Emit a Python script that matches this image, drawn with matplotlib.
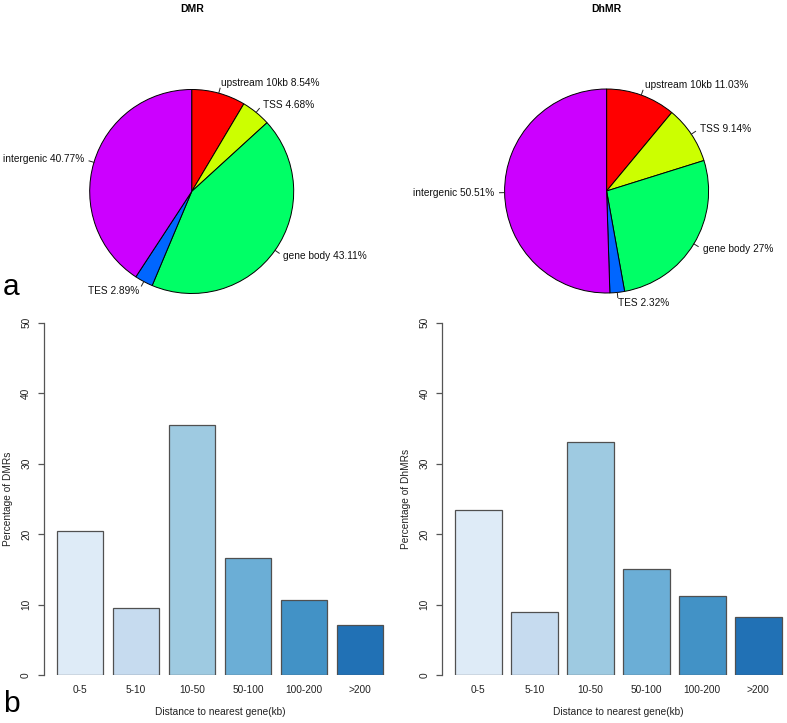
#Pie and bar plots of DMR / DhMR distribution relative to genes

import numpy as np
import matplotlib
matplotlib.use('Agg')
import matplotlib.pyplot as plt

plt.rcParams['font.family'] = ['Liberation Sans', 'DejaVu Sans']

PieParts = ['upstream 10kb', 'TSS', 'gene body', 'TES', 'intergenic']
DMRPie = [8.54, 4.68, 43.11, 2.89, 40.77]
DhMRPie = [11.03, 9.14, 27, 2.32, 50.51]
PieColors = ['#FF0000', '#CCFF00', '#00FF66', '#0066FF', '#CC00FF']

DistBins = ['0-5', '5-10', '10-50', '50-100', '100-200', '>200']
DMRDist = [20.5, 9.45, 35.55, 16.65, 10.7, 7.05]
DhMRDist = [23.35, 8.98, 33.0, 15.08, 11.16, 8.23]
BarColors = ['#DEEBF7', '#C6DBEF', '#9ECAE1', '#6BAED6', '#4292C6', '#2171B5']

W = 787.
H = 723.
fs = 7.3


def PxAxes(fig, left, top, width, height):

	return fig.add_axes([left/W, 1-(top+height)/H, width/W, height/H])


def PlotPie(fig, cx, cy, values, title):

	r = 102.
	ax = PxAxes(fig, cx-1.5*r, cy-1.5*r, 3*r, 3*r)
	labels = [name+' '+('%g' % v)+'%' for name, v in zip(PieParts, values)]

	wedges, texts = ax.pie(values, labels=labels, colors=PieColors, startangle=90,
		counterclock=False, labeldistance=1.1,
		wedgeprops={'edgecolor': 'black', 'linewidth': 0.7},
		textprops={'fontsize': fs, 'color': '#111111'})

	for w in wedges:
		mid = np.deg2rad((w.theta1+w.theta2)/2.)
		ax.plot([np.cos(mid), 1.05*np.cos(mid)], [np.sin(mid), 1.05*np.sin(mid)],
			color='#222222', lw=0.7)

	ax.set_xlim(-1.5, 1.5)
	ax.set_ylim(-1.5, 1.5)
	ax.axis('off')

	fig.text(cx/W, 1-9.5/H, title, ha='center', va='center', fontsize=fs+0.2, fontweight='bold')


def PlotBar(fig, left, values, ylabel):

	ax = PxAxes(fig, left, 322.7, 352.8, 352.3)
	pos = np.arange(len(values))*1.2 + 0.7

	ax.bar(pos, values, width=1.0, color=BarColors, edgecolor='#505050', linewidth=0.9)

	ax.set_xlim(-0.08, 7.48)
	ax.set_ylim(0, 50)

	for side in ['top', 'right', 'bottom']:
		ax.spines[side].set_visible(False)
	ax.spines['left'].set_bounds(0, 50)
	ax.spines['left'].set_color('#555555')
	ax.spines['left'].set_linewidth(0.9)

	ax.set_yticks(np.arange(0, 51, 10))
	ax.tick_params(axis='y', length=4.5, width=0.9, color='#555555', pad=4.5, labelsize=fs, labelcolor='#222222')
	plt.setp(ax.get_yticklabels(), rotation=90, va='center')

	ax.set_xticks(pos)
	ax.set_xticklabels(DistBins)
	ax.tick_params(axis='x', length=0, pad=7, labelsize=fs, labelcolor='#222222')

	ax.set_xlabel('Distance to nearest gene(kb)', fontsize=fs, color='#222222', labelpad=9)
	ax.set_ylabel(ylabel, fontsize=fs, color='#222222', labelpad=6)
	ax.patch.set_visible(False)


fig = plt.figure(figsize=(W/100., H/100.), dpi=100)

PlotPie(fig, 191.7, 191.5, DMRPie, 'DMR')
PlotPie(fig, 606.6, 191.0, DhMRPie, 'DhMR')

PlotBar(fig, 43.6, DMRDist, 'Percentage of DMRs')
PlotBar(fig, 441.9, DhMRDist, 'Percentage of DhMRs')

fig.text(3/W, 1-294.7/H, 'a', ha='left', va='baseline', fontsize=21.5)
fig.text(3/W, 1-711.7/H, 'b', ha='left', va='baseline', fontsize=21.5)

fig.savefig('out.png', dpi=100)
plt.close()
